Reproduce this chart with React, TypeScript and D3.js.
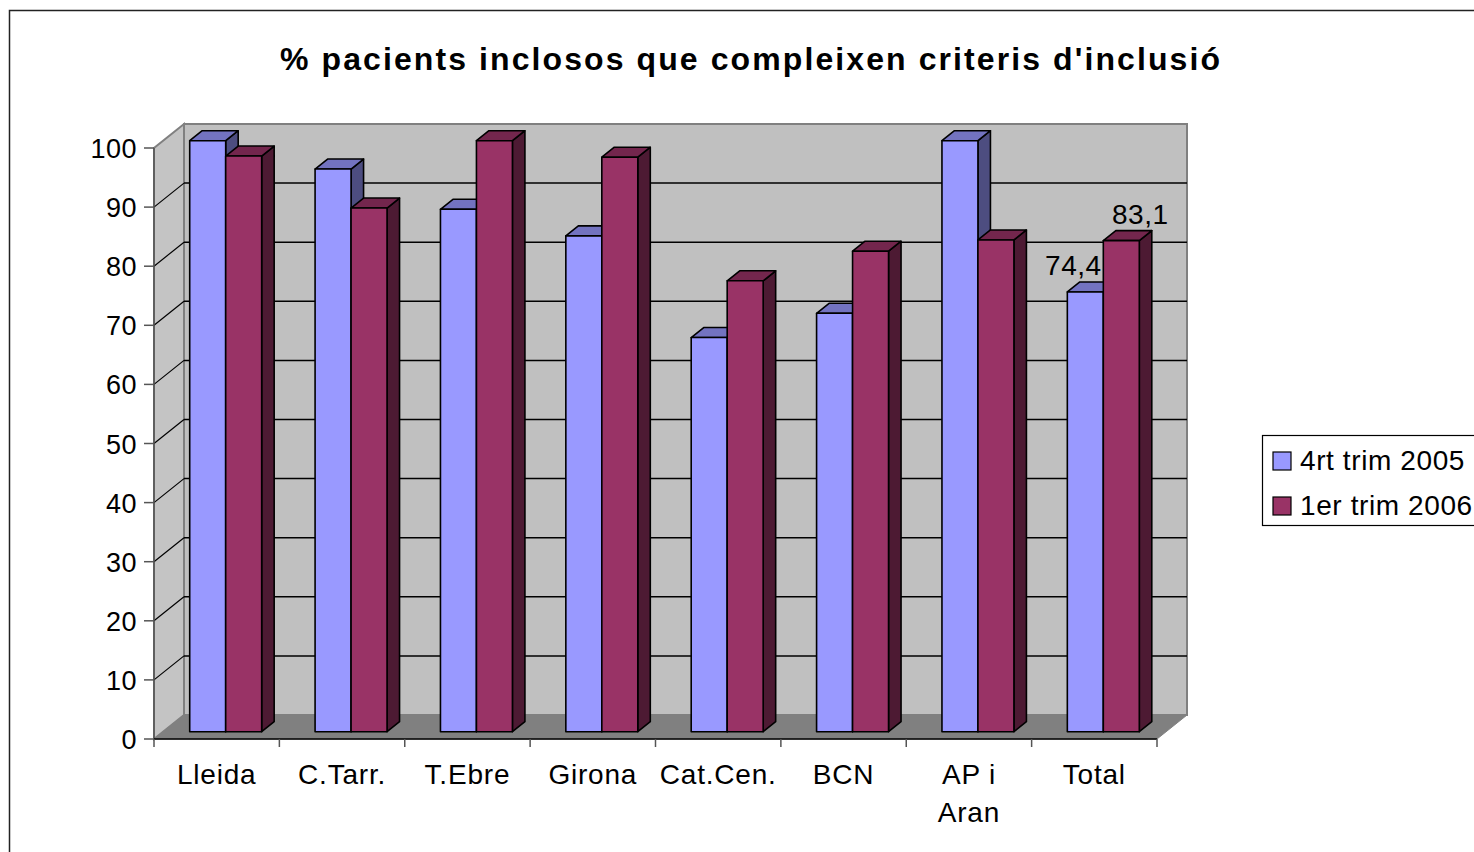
import React from "react";
import * as d3 from "d3";

const categories = ["Lleida", "C.Tarr.", "T.Ebre", "Girona", "Cat.Cen.", "BCN", "AP i Aran", "Total"];
const seriesNames = ["4rt trim 2005", "1er trim 2006"];
const trim2005 = [100, 95.2, 88.4, 83.9, 66.7, 70.8, 100, 74.4];
const trim2006 = [97.4, 88.6, 100, 97.2, 76.3, 81.3, 83.2, 83.1];
const yTicks = [0, 10, 20, 30, 40, 50, 60, 70, 80, 90, 100];
// only the Total pair carries value labels
const labelled = ["Total"];

const font = "'Liberation Sans', Arial, sans-serif";

// colours: front / top / side
const palette = [
  { front: "#9999FF", top: "#7373C0", side: "#4D4D80" },
  { front: "#993366", top: "#73264D", side: "#4D1A33" },
];

export default function App() {
  const left = 154, right = 1157, base = 739, topY = 148;
  const DX = 30, DY = 24; // wall depth
  const bx = 9, by = 7.3; // bar front depth
  const sx = 12.5, sy = 10; // bar depth

  const y = d3.scaleLinear().domain([0, 100]).range([base, topY]);
  const x0 = d3.scaleBand<string>().domain(categories).range([left, right])
    .paddingInner(0.426).paddingOuter(0.213);
  const x1 = d3.scaleBand<number>().domain([0, 1]).range([0, x0.bandwidth()]);
  const series = [trim2005, trim2006];

  const fmt = (v: number) => String(v).replace(".", ",");

  return (
    <svg width={1474} height={852} style={{ position: "absolute", left: 0, top: 0 }}
      fontFamily={font}>
      <rect x={0} y={0} width={1474} height={852} fill="#fff" />
      <rect x={9.5} y={10.5} width={1500} height={900} fill="none" stroke="#222" strokeWidth={1.5} />

      <text x={750} y={70} textAnchor="middle" fontSize={32} fontWeight="bold"
        textLength={940} lengthAdjust="spacing">
        % pacients inclosos que compleixen criteris d'inclusió
      </text>

      {/* back wall */}
      <rect x={left + DX} y={y(100) - DY} width={right - left} height={y(0) - y(100)}
        fill="#C0C0C0" stroke="#808080" strokeWidth={2} />
      {/* side wall */}
      <path d={`M${left},${y(0)}L${left},${y(100)}L${left + DX},${y(100) - DY}L${left + DX},${y(0) - DY}Z`}
        fill="#C4C4C4" stroke="#808080" strokeWidth={2} />
      {/* floor */}
      <path d={`M${left},${base}L${right},${base}L${right + DX},${base - DY}L${left + DX},${base - DY}Z`}
        fill="#808080" stroke="#808080" strokeWidth={1} />

      {yTicks.filter(t => t > 0 && t < 100).map(t => (
        <g key={t}>
          <line x1={left + DX} x2={right + DX} y1={y(t) - DY} y2={y(t) - DY} stroke="#000" strokeWidth={1.5} />
          <line x1={left} x2={left + DX} y1={y(t)} y2={y(t) - DY} stroke="#000" strokeWidth={1.2} />
        </g>
      ))}

      {/* y axis */}
      <line x1={left} x2={left} y1={y(100)} y2={base} stroke="#555" strokeWidth={1.5} />
      {yTicks.map(t => (
        <g key={t}>
          <line x1={left - 10} x2={left} y1={y(t)} y2={y(t)} stroke="#555" strokeWidth={1.5} />
          <text x={137} y={y(t) + 10} textAnchor="end" fontSize={27} letterSpacing={0.5}>{t}</text>
        </g>
      ))}

      {/* x axis */}
      <line x1={left} x2={right} y1={base} y2={base} stroke="#000" strokeWidth={1.5} />
      {d3.range(categories.length + 1).map(i => {
        const xx = left + i * x0.step();
        return <line key={i} x1={xx} x2={xx} y1={base} y2={base + 8} stroke="#555" strokeWidth={1.5} />;
      })}
      {categories.map(c => {
        const cx = left + (categories.indexOf(c) + 0.5) * x0.step();
        const lines = c === "AP i Aran" ? ["AP i", "Aran"] : [c];
        return (
          <text key={c} textAnchor="middle" fontSize={28} letterSpacing={0.8}>
            {lines.map((l, j) => (
              <tspan key={j} x={cx} y={784 + j * 38}>{l}</tspan>
            ))}
          </text>
        );
      })}

      {/* bars */}
      {categories.map((c, i) => (
        <g key={c}>
          {series.map((vals, s) => {
            const v = vals[i];
            const x = (x0(c) as number) + bx + (x1(s) as number);
            const w = x1.bandwidth();
            const yt = y(v) - by;
            const yb = y(0) - by;
            const p = palette[s];
            return (
              <g key={s} stroke="#000" strokeWidth={1.6} strokeLinejoin="round">
                <path d={`M${x + w},${yb}L${x + w + sx},${yb - sy}L${x + w + sx},${yt - sy}L${x + w},${yt}Z`} fill={p.side} />
                <path d={`M${x},${yt}L${x + sx},${yt - sy}L${x + w + sx},${yt - sy}L${x + w},${yt}Z`} fill={p.top} />
                <rect x={x} y={yt} width={w} height={yb - yt} fill={p.front} />
              </g>
            );
          })}
        </g>
      ))}

      {/* value labels */}
      {categories.filter(c => labelled.includes(c)).map(c => {
        const i = categories.indexOf(c);
        return series.map((vals, s) => {
          const x = (x0(c) as number) + bx + (x1(s) as number) + x1.bandwidth() / 2;
          const off = s === 0 ? -12 : 19;
          return (
            <text key={c + s} x={x + off} y={y(vals[i]) - by - 17} textAnchor="middle" fontSize={28} letterSpacing={0.5}>
              {fmt(vals[i])}
            </text>
          );
        });
      })}

      {/* legend */}
      <rect x={1262.5} y={435.5} width={230} height={90} fill="#fff" stroke="#000" strokeWidth={1.2} />
      {seriesNames.map((n, s) => (
        <g key={n}>
          <rect x={1273} y={452 + s * 45} width={18} height={18} fill={palette[s].front} stroke="#000" strokeWidth={1.2} />
          <text x={1300} y={470 + s * 45} fontSize={28} letterSpacing={0.6}>{n}</text>
        </g>
      ))}
    </svg>
  );
}
